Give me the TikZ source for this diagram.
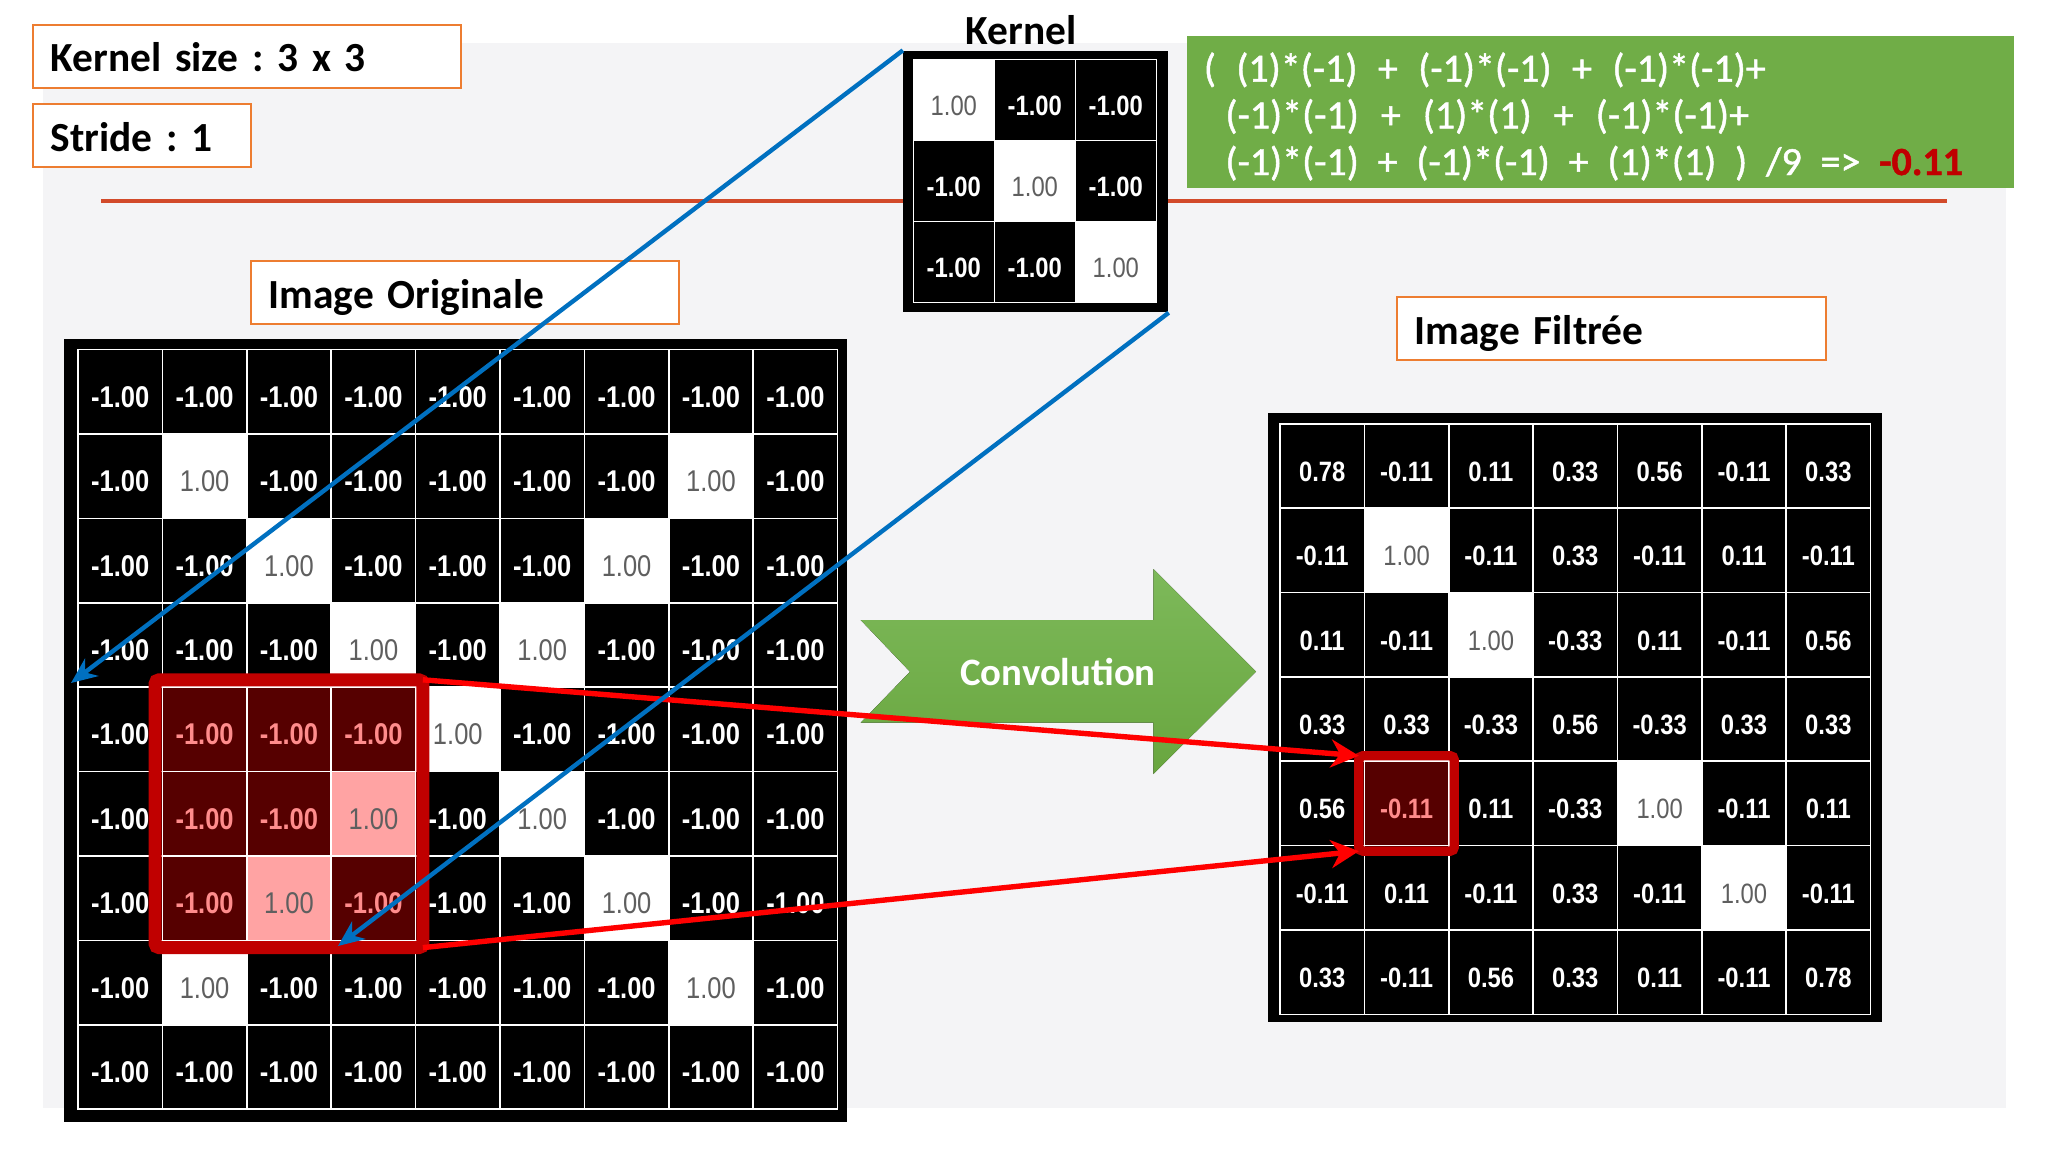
\documentclass[tikz,border=0pt]{standalone}
\usepackage{fontspec}
\setmainfont{Carlito}
\newfontfamily\numfont{Liberation Sans}[FakeStretch=0.85]
\newfontfamily\formfont{Carlito}[FakeBold=1.2]
\usetikzlibrary{arrows.meta,fit,positioning}
\frenchspacing
\definecolor{boxorange}{HTML}{ED7D31}
\definecolor{sepred}{HTML}{D24A2A}
\definecolor{panelgray}{HTML}{F4F4F6}
\definecolor{formgreen}{HTML}{70AD47}
\definecolor{convlight}{HTML}{7DB95A}
\definecolor{convdark}{HTML}{69A63F}
\definecolor{darkred}{HTML}{C00000}
\definecolor{kblue}{HTML}{0070C0}
\definecolor{hlfill}{HTML}{560000}
\definecolor{hlpink}{HTML}{FFA3A3}
\definecolor{hltext}{HTML}{FF8C8C}
\definecolor{onegray}{HTML}{5F5F5F}
\newcommand\widesp[1]{\spaceskip=#1em\relax}
\tikzstyle{titlebox}=[draw=boxorange,line width=1pt,fill=white,inner xsep=9pt,inner ysep=0pt,minimum height=31.3pt,align=left,text height=15.5pt,text depth=0pt,font=\fontsize{20.7}{24}\selectfont\bfseries]
\tikzstyle{frame}=[fill=black,inner sep=0pt]
\tikzstyle{cell}=[draw=white,line width=0.8pt,inner sep=0pt,minimum size=\cellw,text height=15.5pt,text depth=0pt]
\tikzstyle{negcell}=[cell,fill=black,text=white,font=\numfont\bfseries\fontsize{\cellfs}{\cellfs}\selectfont]
\tikzstyle{poscell}=[cell,fill=white,text=onegray,font=\numfont\fontsize{\cellfs}{\cellfs}\selectfont]
\tikzstyle{hlneg}=[negcell,fill=hlfill,text=hltext]
\tikzstyle{hlpos}=[poscell,fill=hlpink,text=onegray]
\tikzstyle{patchbox}=[draw=darkred,line width=6.5pt,inner sep=3.25pt,outer sep=0pt,rounded corners=2pt]
\tikzstyle{formline}=[anchor=base west,inner sep=0pt,text=white,font=\formfont\fontsize{20}{24}\selectfont]
\tikzstyle{bluearrow}=[draw=kblue,line width=2.2pt,-{Stealth[length=13pt,width=11pt]}]
\tikzstyle{redarrow}=[draw=red,line width=2.7pt,-{Stealth[length=14pt,width=14pt]}]

\begin{document}
\begin{tikzpicture}[x=0.5pt,y=-0.5pt]
\useasboundingbox (0,0) rectangle (2048,1152);
\fill[white] (0,0) rectangle (2048,1152);
\fill[panelgray] (42.5,43.3) rectangle (2006,1108);
\draw[sepred,line width=2pt] (101,200.7) -- (1947,200.7);

% settings
\node[titlebox,text width=195.9pt] (ksize) at (246.6,56.35) {Kernel size : 3 x 3};
\node[titlebox,text width=91pt] (stride) at (141.75,135.5) {Stride : 1};

% kernel
\node[anchor=base,inner sep=0pt,font=\fontsize{20.7}{24}\selectfont\bfseries] (klabel) at (1021,44) {Kernel};
\node[frame,minimum width=132.5pt,minimum height=130.8pt] (kframe) at (1035.8,181.5) {};
\def\cellfs{14}\def\cellw{40.5pt}
\foreach \row [count=\r from 0] in {{1,-1,-1},{-1,1,-1},{-1,-1,1}}{
  \foreach \v [count=\c from 0] in \row {
    \ifnum\v=1
      \node[poscell] (k-\r-\c) at ({953.8+81*\c},{99.8+81*\r}) {1.00};
    \else
      \node[negcell] (k-\r-\c) at ({953.8+81*\c},{99.8+81*\r}) {-1.00};
    \fi
  }
}

% formula
\node[fill=formgreen,minimum width=413.35pt,minimum height=76.15pt,inner sep=0pt] (formula) at (1600.65,112.15) {};
\node[formline] (fline1) at (1203.4,81.7) {\widesp{0.51}( (1)*(-1) + (-1)*(-1) + (-1)*(-1)+};
\node[formline] (fline2) at (1225,128.3) {\widesp{0.55}(-1)*(-1) + (1)*(1) + (-1)*(-1)+};
\node[formline] (fline3) at (1225,175) {\widesp{0.47}(-1)*(-1) + (-1)*(-1) + (1)*(1) ) /9 => \textcolor{darkred}{\bfseries -0.11}};

% original image
\node[titlebox,text width=196.25pt] (origtitle) at (465.05,292.5) {Image Originale};
\node[frame,minimum width=391.45pt,minimum height=391.5pt] (oframe) at (455.75,730.8) {};
\def\cellfs{15}\def\cellw{42.2pt}
\foreach \row [count=\r from 0] in {
  {-1,-1,-1,-1,-1,-1,-1,-1,-1},
  {-1,1,-1,-1,-1,-1,-1,1,-1},
  {-1,-1,1,-1,-1,-1,1,-1,-1},
  {-1,-1,-1,1,-1,1,-1,-1,-1},
  {-1,-1,-1,-1,1,-1,-1,-1,-1},
  {-1,-1,-1,1,-1,1,-1,-1,-1},
  {-1,-1,1,-1,-1,-1,1,-1,-1},
  {-1,1,-1,-1,-1,-1,-1,1,-1},
  {-1,-1,-1,-1,-1,-1,-1,-1,-1}}{
  \foreach \v [count=\c from 0] in \row {
    \ifnum\v=1
      \node[poscell] (o-\r-\c) at ({120.2+84.4*\c},{391.7+84.4*\r}) {1.00};
    \else
      \node[negcell] (o-\r-\c) at ({120.2+84.4*\c},{391.7+84.4*\r}) {-1.00};
    \fi
  }
}
% highlighted patch
\foreach \row [count=\r from 4] in {{-1,-1,-1},{-1,-1,1},{-1,1,-1}}{
  \foreach \v [count=\c from 1] in \row {
    \ifnum\v=1
      \node[hlpos] (h-\r-\c) at (o-\r-\c) {1.00};
    \else
      \node[hlneg] (h-\r-\c) at (o-\r-\c) {-1.00};
    \fi
  }
}
\node[patchbox,fit=(o-4-1)(o-6-3)] (patch) {};

% convolution arrow
\fill[top color=convlight,bottom color=convdark] (860.7,620) -- (1153.3,620) -- (1153.3,569) -- (1256,671.7) -- (1153.3,774) -- (1153.3,722.7) -- (860.7,722.7) -- (910,671.7) -- cycle;
\node[text=white,inner sep=0pt,text height=12.5pt,text depth=0pt,font=\fontsize{19.4}{22}\selectfont\bfseries] (conv) at (1058,672.5) {Convolution};

% filtered image
\node[titlebox,text width=196.5pt] (filttitle) at (1611.2,328.65) {Image Filtrée};
\node[frame,minimum width=307pt,minimum height=304.55pt] (fframe) at (1575,717.15) {};
\def\cellfs{14}\def\cellw{42.18pt}
\foreach \row [count=\r from 0] in {
  {0.78,-0.11,0.11,0.33,0.56,-0.11,0.33},
  {-0.11,1.00,-0.11,0.33,-0.11,0.11,-0.11},
  {0.11,-0.11,1.00,-0.33,0.11,-0.11,0.56},
  {0.33,0.33,-0.33,0.56,-0.33,0.33,0.33},
  {0.56,-0.11,0.11,-0.33,1.00,-0.11,0.11},
  {-0.11,0.11,-0.11,0.33,-0.11,1.00,-0.11},
  {0.33,-0.11,0.56,0.33,0.11,-0.11,0.78}}{
  \foreach \v [count=\c from 0] in \row {
    \ifdim\v pt=1pt
      \node[poscell] (f-\r-\c) at ({1322.2+84.36*\c},{466+84.36*\r}) {\v};
    \else
      \node[negcell] (f-\r-\c) at ({1322.2+84.36*\c},{466+84.36*\r}) {\v};
    \fi
  }
}
\node[hlneg] (fh) at (f-4-1) {-0.11};
\node[patchbox,line width=4.7pt,inner sep=2.35pt,fit=(f-4-1)] (fpatch) {};

% connectors
\coordinate (bl1) at (71,683);
\coordinate (bl2) at (338,946);
\draw[redarrow] (patch.north east) -- (fpatch.north west);
\draw[redarrow] (patch.south east) -- (fpatch.south west);
\draw[bluearrow] (kframe.north west) -- (bl1);
\draw[bluearrow] (kframe.south east) -- (bl2);
\end{tikzpicture}
\end{document}
